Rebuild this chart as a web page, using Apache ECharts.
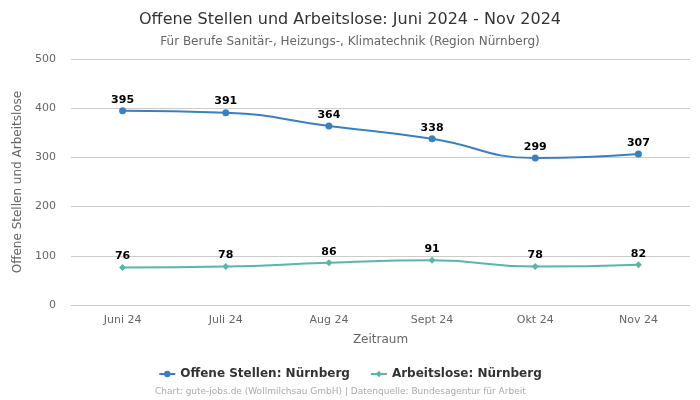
<!DOCTYPE html>
<html><head><meta charset="utf-8">
<script src="https://cdn.jsdelivr.net/npm/echarts@6/dist/echarts.min.js"></script>
<style>html,body{margin:0;padding:0;background:#fff}#c{width:700px;height:400px}</style>
</head><body><div id="c"></div>
<script>
var categories = ['Juni 24','Juli 24','Aug 24','Sept 24','Okt 24','Nov 24'];
var offeneStellen = [395, 391, 364, 338, 299, 307];
var arbeitslose = [76, 78, 86, 91, 78, 82];
var yTicks = [0, 100, 200, 300, 400, 500];

var chart = echarts.init(document.getElementById('c'));
chart.setOption({
  animation: false,
  textStyle: {fontFamily: 'DejaVu Sans, sans-serif'},
  title: [{
    text: 'Offene Stellen und Arbeitslose: Juni 2024 - Nov 2024',
    left: 'center', top: 7,
    textStyle: {fontSize: 16, fontWeight: 'normal', color: '#333'}
  },{
    text: 'Für Berufe Sanitär-, Heizungs-, Klimatechnik (Region Nürnberg)',
    left: 'center', top: 31,
    textStyle: {fontSize: 12, fontWeight: 'normal', color: '#666'}
  },{
    text: 'Chart: gute-jobs.de (Wollmilchsau GmbH) | Datenquelle: Bundesagentur für Arbeit',
    left: 150, top: 382,
    textStyle: {fontSize: 9, fontWeight: 'normal', color: '#aaa'}
  }],
  legend: {
    bottom: 15, left: 'center', itemGap: 20, itemWidth: 16, itemHeight: 8,
    textStyle: {fontSize: 12, fontWeight: 'bold', color: '#333'},
    data: ['Offene Stellen: Nürnberg', 'Arbeitslose: Nürnberg']
  },
  grid: {left: 71, right: 10, top: 59, bottom: 95},
  xAxis: {
    type: 'category', data: categories, boundaryGap: true,
    name: 'Zeitraum', nameLocation: 'middle', nameGap: 29,
    nameTextStyle: {fontSize: 12, color: '#666'},
    axisLine: {lineStyle: {color: '#ccc'}},
    axisTick: {show: false},
    axisLabel: {fontSize: 11, color: '#666', margin: 10}
  },
  yAxis: {
    type: 'value', min: yTicks[0], max: yTicks[yTicks.length-1], interval: 100,
    name: 'Offene Stellen und Arbeitslose', nameLocation: 'middle', nameGap: 34,
    nameTextStyle: {fontSize: 12, color: '#666'},
    axisLine: {show: false}, axisTick: {show: false},
    axisLabel: {fontSize: 11, color: '#666', margin: 15},
    splitLine: {lineStyle: {color: '#ccc'}}
  },
  series: [{
    name: 'Offene Stellen: Nürnberg', type: 'line', smooth: true,
    data: offeneStellen, symbol: 'circle', symbolSize: 7,
    itemStyle: {color: '#3a80c0'}, lineStyle: {width: 2, color: '#3a80c0'},
    label: {show: true, position: 'top', fontSize: 11, fontWeight: 'bold', color: '#000', distance: 2}
  },{
    name: 'Arbeitslose: Nürnberg', type: 'line', smooth: true,
    data: arbeitslose, symbol: 'diamond', symbolSize: 7,
    itemStyle: {color: '#5bb5ab'}, lineStyle: {width: 2, color: '#5bb5ab'},
    label: {show: true, position: 'top', fontSize: 11, fontWeight: 'bold', color: '#000', distance: 2}
  }]
});
</script></body></html>
